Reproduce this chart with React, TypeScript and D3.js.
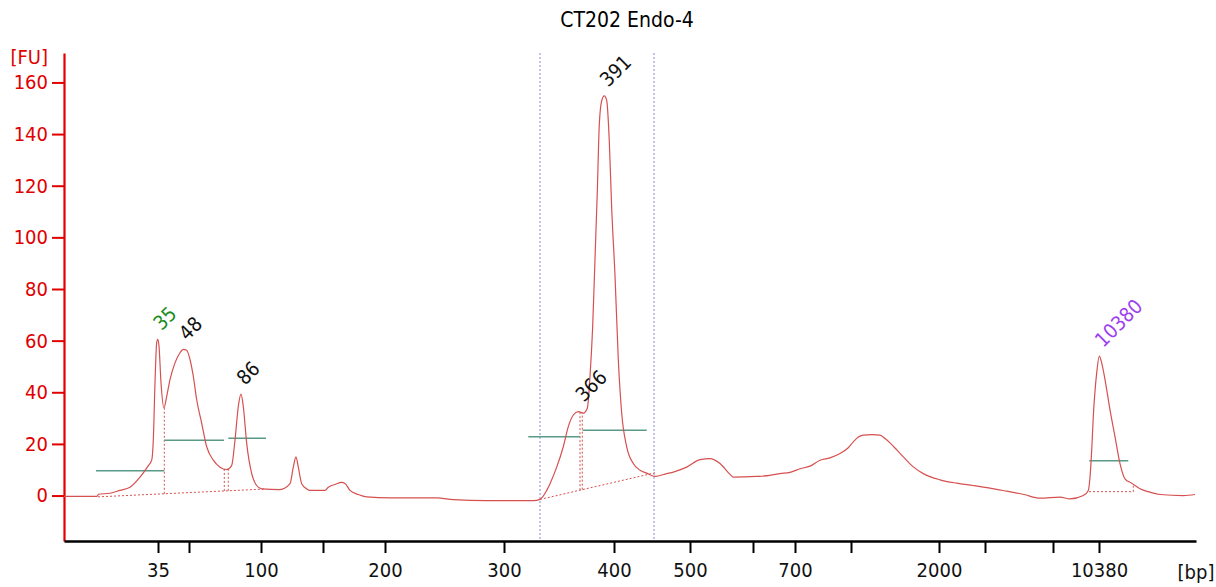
import React, { useEffect, useRef } from 'react';
import * as d3 from 'd3';

const WIDTH = 1216;
const HEIGHT = 587;

const title = 'CT202 Endo-4';

// ladder fragments (bp) and their migration times (s)
const ladderBp = [35, 50, 100, 150, 200, 300, 400, 500, 600, 700, 1000, 2000, 3000, 7000, 10380];
const ladderTime = [29.4, 32.5, 39.7, 45.9, 52.1, 64.0, 75.0, 82.6, 88.9, 93.1, 98.7, 107.5, 112.1, 118.9, 123.5];
const labeledBp = [35, 100, 200, 300, 400, 500, 700, 2000, 10380];

const fuTicks = [0, 20, 40, 60, 80, 100, 120, 140, 160];

// electropherogram trace: time (s) / fluorescence (FU)
const traceTime = [
  20.0, 23.3, 23.45, 24.6, 25.6, 26.6, 27.6, 28.4, 28.77, 28.93, 29.1, 29.27, 29.37, 29.5, 29.7, 30.0,
  30.27, 30.6, 31.1, 31.6, 31.93, 32.27, 32.6, 32.93, 33.27, 33.77, 34.27, 34.93, 35.6, 36.27, 36.77,
  37.1, 37.43, 37.7, 37.93, 38.27, 38.77, 39.27, 39.77, 41.6, 42.6, 42.93, 43.2, 43.43, 43.77, 44.27,
  44.6, 46.1, 46.43, 47.1, 47.77, 48.1, 48.6, 49.43, 50.27, 52.6, 57.27, 58.93, 62.27, 66.93, 67.6,
  68.27, 68.6, 69.27, 69.93, 70.43, 70.93, 71.43, 71.93, 72.33, 72.6, 72.87, 73.1, 73.33, 73.53, 73.77,
  74.03, 74.27, 74.53, 74.77, 75.1, 75.43, 75.77, 76.27, 76.93, 77.6, 78.27, 79.1, 80.27, 80.93, 82.27,
  83.6, 84.6, 85.6, 86.6, 86.93, 89.27, 90.6, 91.6, 92.6, 93.6, 94.6, 95.6, 96.6, 97.6, 98.4, 98.93,
  99.4, 99.93, 100.8, 101.6, 102.1, 102.6, 103.3, 103.93, 104.9, 105.93, 107.6, 109.27, 110.93, 112.6,
  114.27, 116.0, 117.6, 119.6, 120.6, 121.93, 122.43, 122.6, 122.77, 122.93,
  123.27, 123.53, 123.77, 124.1, 124.6, 125.1, 125.6, 126.1, 126.77, 127.6, 128.6, 129.6, 131.93, 133.1,
];
const traceFU = [
  -0.3, -0.3, 0.5, 0.9, 2.0, 3.2, 7.1, 11.4, 13.7, 21.5, 43.7, 59.2, 60.5, 57.9, 43.7, 34.0,
  38.4, 44.9, 51.4, 55.3, 56.6, 56.3, 52.7, 46.2, 37.1, 28.0, 18.9, 13.7, 11.0, 10.1, 11.7,
  21.5, 34.5, 39.3, 34.5, 20.2, 8.5, 3.9, 2.6, 2.3, 4.6, 11.0, 15.0, 11.0, 4.6, 2.6,
  2.0, 2.0, 3.2, 4.3, 5.1, 4.7, 2.0, 0.4, -0.5, -0.9, -0.9, -1.6, -2.0, -2.0, -1.5,
  2.0, 4.6, 11.0, 18.9, 26.7, 31.2, 32.5, 31.9, 33.8, 46.2, 65.7, 91.7, 117.7, 143.7, 152.9,
  154.8, 153.0, 137.2, 111.2, 85.2, 52.7, 31.9, 18.9, 12.4, 9.8, 8.7, 7.4, 8.5, 9.1, 11.0,
  13.9, 14.3, 12.4, 8.2, 7.1, 7.4, 7.8, 8.5, 9.0, 10.4, 11.4, 13.7, 14.6, 16.3, 18.4, 20.8,
  22.6, 23.4, 23.6, 23.4, 22.1, 20.4, 17.6, 15.0, 11.2, 8.5, 6.1, 4.8, 3.9, 2.9,
  1.7, 0.4, -1.0, -0.6, -1.3, 0.0, 2.0, 7.1, 17.6, 30.6,
  47.5, 54.0, 51.4, 44.9, 33.2, 22.8, 12.4, 6.5, 4.8, 2.6, 1.3, 0.4, 0.0, 0.4,
];

// called peaks
const peakNames = ['35', '48', '86', '366', '391', '10380'];
const peakKind = ['lower', 'sample', 'sample', 'sample', 'sample', 'upper'];
const peakTime = [29.37, 31.93, 37.7, 71.6, 74.03, 123.53];
const peakFU = [60.5, 56.6, 39.3, 32.8, 154.8, 54.0];

// peak baselines (start time/FU, end time/FU)
const baseStartTime = [23.4, 67.6, 122.5];
const baseStartFU = [-0.5, -1.5, 1.5];
const baseEndTime = [40.0, 79.1, 126.93];
const baseEndFU = [2.5, 8.8, 1.5];

// boundaries between peaks
const splitTime = [30.03, 36.03, 36.43, 71.6, 71.83, 126.93];
const splitRegion = [0, 0, 0, 1, 1, 2];

// peak width bars
const barStartTime = [23.2, 30.03, 36.43, 66.43, 71.87, 122.53];
const barEndTime = [30.03, 36.0, 40.2, 71.6, 78.27, 126.43];
const barFU = [9.6, 21.4, 22.2, 22.8, 25.3, 13.5];

// region selection
const selectionTime = [67.6, 79.0];

const FONT = 'Tahoma, "DejaVu Sans Condensed", "DejaVu Sans", sans-serif';

const Electropherogram = () => {
  const ref = useRef<SVGSVGElement | null>(null);

  useEffect(() => {
    if (!ref.current) return;
    const svg = d3.select(ref.current);
    svg.selectAll('*').remove();

    const left = 64, right = 1196, top = 53, bottom = 541;

    const x = d3.scaleLinear().domain([20, 133.2]).range([left, right]);
    const y = d3.scaleLinear().domain([-17.6, 171.4]).range([bottom, top]);
    const traceAt = d3.scaleLinear().domain(traceTime).range(traceFU);

    const traceColor = '#d65050';
    const markColor: Record<string, string> = { lower: '#1e8c1e', upper: '#9d3ff0', sample: '#111' };

    // title
    svg.append('text')
      .attr('x', 627).attr('y', 27)
      .attr('text-anchor', 'middle')
      .style('font-family', FONT).style('font-size', '21px')
      .text(title);

    // selection lines
    svg.selectAll('.sel').data(selectionTime).enter().append('line')
      .attr('x1', d => x(d)).attr('x2', d => x(d))
      .attr('y1', top).attr('y2', bottom)
      .attr('stroke', '#8585dd').attr('stroke-width', 1)
      .attr('stroke-dasharray', '2,2');

    // y axis
    const yAxis = svg.append('g')
      .attr('transform', `translate(${left},0)`)
      .call(d3.axisLeft(y).tickValues(fuTicks).tickSize(12).tickSizeOuter(0).tickPadding(4));
    yAxis.select('.domain').attr('stroke', '#e00000').attr('stroke-width', 2.2);
    yAxis.selectAll('.tick line').attr('stroke', '#e00000').attr('stroke-width', 2);
    yAxis.selectAll('.tick text').attr('fill', '#e00000')
      .style('font-family', FONT).style('font-size', '20px');

    svg.append('text')
      .attr('x', 48).attr('y', 64)
      .attr('text-anchor', 'end')
      .attr('fill', '#e00000')
      .style('font-family', FONT).style('font-size', '20px')
      .text('[FU]');

    // x axis
    const xAxis = svg.append('g')
      .attr('transform', `translate(0,${bottom})`)
      .call(d3.axisBottom(x).tickValues(ladderTime).tickSize(12).tickSizeOuter(0).tickPadding(10)
        .tickFormat((_, i) => (labeledBp.includes(ladderBp[i]) ? String(ladderBp[i]) : '')));
    xAxis.select('.domain').attr('stroke', '#000').attr('stroke-width', 2.5);
    xAxis.selectAll('.tick line').attr('stroke', '#000').attr('stroke-width', 2);
    xAxis.selectAll('.tick text').attr('fill', '#111')
      .style('font-family', FONT).style('font-size', '20px');

    svg.append('text')
      .attr('x', right).attr('y', 579)
      .attr('text-anchor', 'middle')
      .attr('fill', '#111')
      .style('font-family', FONT).style('font-size', '20px')
      .text('[bp]');

    // baselines under peaks
    svg.selectAll('.base').data(baseStartTime).enter().append('line')
      .attr('x1', d => x(d)).attr('y1', (_, i) => y(baseStartFU[i]))
      .attr('x2', (_, i) => x(baseEndTime[i])).attr('y2', (_, i) => y(baseEndFU[i]))
      .attr('stroke', traceColor).attr('stroke-width', 1).attr('stroke-dasharray', '2,2');

    const baseAt = (t: number, r: number) =>
      d3.scaleLinear().domain([baseStartTime[r], baseEndTime[r]]).range([baseStartFU[r], baseEndFU[r]])(t);

    svg.selectAll('.split').data(splitTime).enter().append('line')
      .attr('x1', d => x(d)).attr('x2', d => x(d))
      .attr('y1', (d, i) => y(baseAt(d, splitRegion[i])))
      .attr('y2', d => y(traceAt(d)))
      .attr('stroke', traceColor).attr('stroke-width', 1).attr('stroke-dasharray', '2,2');

    // peak width bars
    svg.selectAll('.bar').data(barStartTime).enter().append('line')
      .attr('x1', d => x(d)).attr('x2', (_, i) => x(barEndTime[i]))
      .attr('y1', (_, i) => y(barFU[i])).attr('y2', (_, i) => y(barFU[i]))
      .attr('stroke', '#5a9a88').attr('stroke-width', 1.5);

    // trace
    const line = d3.line<number>()
      .x((_, i) => x(traceTime[i]))
      .y(d => y(d))
      .curve(d3.curveMonotoneX);
    svg.append('path')
      .datum(traceFU)
      .attr('d', line)
      .attr('fill', 'none')
      .attr('stroke', traceColor)
      .attr('stroke-width', 1.2)
      .attr('stroke-linejoin', 'round');

    // peak labels
    svg.selectAll('.plabel').data(peakNames).enter().append('text')
      .attr('transform', (_, i) => `translate(${x(peakTime[i]) + 4},${y(peakFU[i]) - 8}) rotate(-45)`)
      .attr('fill', (_, i) => markColor[peakKind[i]])
      .style('font-family', FONT).style('font-size', '20px')
      .text(d => d);
  }, []);

  return <svg ref={ref} width={WIDTH} height={HEIGHT} style={{ position: 'absolute', left: 0, top: 0, background: '#fff' }} />;
};

export default function App() {
  return <Electropherogram />;
}
